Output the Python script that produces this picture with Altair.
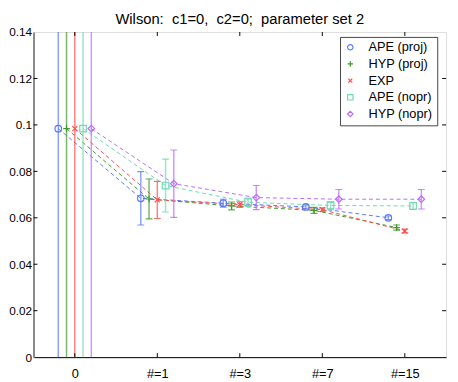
import altair as alt
import pandas as pd

categories = ["0", "#=1", "#=3", "#=7", "#=15"]
series = ["APE (proj)", "HYP (proj)", "EXP", "APE (nopr)", "HYP (nopr)"]
offsets = [-0.2, -0.1, 0.0, 0.1, 0.2]
colors = ["#5b78ff", "#3f9a2e", "#ff4c4c", "#6fd9b0", "#b86cff"]
shapes = ["circle", "M-1,0L1,0M0,-1L0,1", "M-0.75,-0.75L0.75,0.75M-0.75,0.75L0.75,-0.75", "square", "diamond"]

values = {
    "APE (proj)": [0.0984, 0.0684, 0.0663, 0.0647, 0.0600],
    "HYP (proj)": [0.0984, 0.0681, 0.0651, 0.0632, 0.0558],
    "EXP":        [0.0984, 0.0677, 0.0657, 0.0635, 0.0543],
    "APE (nopr)": [0.0984, 0.0739, 0.0667, 0.0653, 0.0651],
    "HYP (nopr)": [0.0984, 0.0747, 0.0687, 0.0680, 0.0680],
}
errors = {
    "APE (proj)": [0.30, 0.0115, 0.0017, 0.0008, 0.0008],
    "HYP (proj)": [0.30, 0.0086, 0.0017, 0.0013, 0.0011],
    "EXP":        [0.30, 0.0080, 0.0012, 0.0008, 0.0008],
    "APE (nopr)": [0.30, 0.0114, 0.0018, 0.0017, 0.0015],
    "HYP (nopr)": [0.30, 0.0145, 0.0052, 0.0042, 0.0042],
}

rows = []
for s, off in zip(series, offsets):
    for i, c in enumerate(categories):
        v = values[s][i]
        e = errors[s][i]
        rows.append({"series": s, "cat": i, "x": i + off, "y": v,
                     "lo": v - e, "hi": v + e})
df = pd.DataFrame(rows)

W, H = 420, 331
xs = alt.Scale(domain=[-0.5, 4.5], nice=False, zero=False)
ys = alt.Scale(domain=[0, 0.14], nice=False, zero=False)
cscale = alt.Scale(domain=series, range=colors)
col = alt.Color("series:N", sort=series, scale=cscale, legend=None)

lab_expr = "[" + ",".join("'%s'" % c for c in categories) + "][datum.value]"

base = alt.Chart(df)

lines = base.mark_line(strokeDash=[4, 3], strokeWidth=1, clip=True).encode(
    x=alt.X("x:Q", scale=xs, axis=alt.Axis(values=[0, 1, 2, 3, 4], labelExpr=lab_expr,
                                           title=None, grid=False, tickSize=0,
                                           labelFontSize=13, labelFont="Liberation Sans",
                                           labelColor="black", labelPadding=11,
                                           domainColor="black")),
    y=alt.Y("y:Q", scale=ys, axis=alt.Axis(values=[0, 0.02, 0.04, 0.06, 0.08, 0.1, 0.12, 0.14],
                                           labelExpr="format(datum.value, '~g')",
                                           title=None, grid=False, tickSize=0,
                                           labelFontSize=12, labelFont="Liberation Sans",
                                           labelColor="black", labelPadding=2,
                                           domainColor="#888888", domainWidth=2)),
    color=col,
    detail="series:N",
    order="x:Q",
)

bars = base.mark_rule(strokeWidth=1.5, opacity=0.7, clip=True).encode(
    x=alt.X("x:Q", scale=xs), y=alt.Y("lo:Q", scale=ys), y2="hi:Q", color=col)

caps_lo = base.mark_tick(orient="horizontal", size=7, thickness=1.2, opacity=0.8, clip=True).encode(
    x=alt.X("x:Q", scale=xs), y=alt.Y("lo:Q", scale=ys), color=col)
caps_hi = base.mark_tick(orient="horizontal", size=7, thickness=1.2, opacity=0.8, clip=True).encode(
    x=alt.X("x:Q", scale=xs), y=alt.Y("hi:Q", scale=ys), color=col)

leg = alt.Legend(title=None, orient="none", legendX=312, legendY=5,
                 strokeColor="#444444", fillColor="white",
                 padding=4, rowPadding=3, columnPadding=0,
                 labelFontSize=13, labelFont="Liberation Sans",
                 labelColor="black", symbolSize=30, symbolOpacity=1,
                 symbolStrokeWidth=1.2, labelOffset=12, symbolFillColor="transparent")

points_df = df.copy()
points_df["label"] = points_df["series"]
points = alt.Chart(points_df).mark_point(filled=False, size=45, strokeWidth=1.2, opacity=1, clip=True).encode(
    x=alt.X("x:Q", scale=xs),
    y=alt.Y("y:Q", scale=ys),
    color=alt.Color("label:N", sort=series, scale=alt.Scale(domain=series, range=colors),
                    legend=leg),
    shape=alt.Shape("label:N", sort=series, scale=alt.Scale(domain=series, range=shapes),
                    legend=leg),
)

# inward ticks (box style)
ytick_df = pd.DataFrame({"v": [0.02, 0.04, 0.06, 0.08, 0.1, 0.12]})
xtick_df = pd.DataFrame({"v": [0, 1, 2, 3, 4]})
yl = alt.Chart(ytick_df).mark_rule(color="black").encode(
    y=alt.Y("v:Q", scale=ys), x=alt.value(0), x2=alt.value(4))
yr = alt.Chart(ytick_df).mark_rule(color="black").encode(
    y=alt.Y("v:Q", scale=ys), x=alt.value(W - 4), x2=alt.value(W))
xb = alt.Chart(xtick_df).mark_rule(color="black").encode(
    x=alt.X("v:Q", scale=xs), y=alt.value(H - 4), y2=alt.value(H))
xt = alt.Chart(xtick_df).mark_rule(color="black").encode(
    x=alt.X("v:Q", scale=xs), y=alt.value(0), y2=alt.value(4))

nb = "\u00a0"
title = "Wilson:" + nb * 2 + "c1=0," + nb * 2 + "c2=0;" + nb * 2 + "parameter set 2"

chart = alt.layer(lines, bars, caps_lo, caps_hi, points, yl, yr, xb, xt).resolve_scale(
    color="independent", shape="independent"
).properties(
    width=W, height=H,
    title=alt.TitleParams(title, fontSize=15, font="Liberation Sans", fontWeight="normal",
                          anchor="middle", frame="group", offset=8, dy=9, color="black"),
    autosize=alt.AutoSizeParams(type="none"),
    padding={"left": 26, "top": 21, "right": 4, "bottom": 30},
).configure_view(stroke="black", strokeWidth=1).configure(background="white")

chart.save("out.html", embed_options={"renderer": "svg", "actions": False})
